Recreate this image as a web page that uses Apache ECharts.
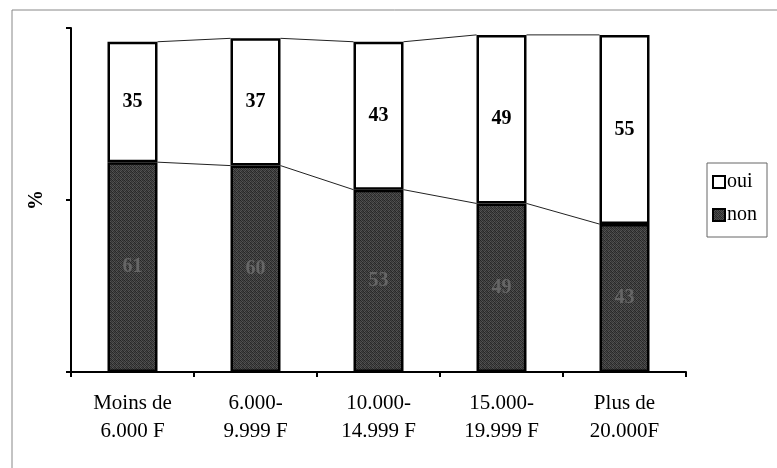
<!DOCTYPE html>
<html>
<head>
<meta charset="utf-8">
<script src="https://cdn.jsdelivr.net/npm/echarts@6/dist/echarts.min.js"></script>
<style>
html,body{margin:0;padding:0;background:#fff;}
#chart{width:777px;height:468px;}
</style>
</head>
<body>
<div id="chart"></div>
<script>
// Revenu mensuel du ménage (tranches)
const categories = ['Moins de\n6.000 F', '6.000-\n9.999 F', '10.000-\n14.999 F', '15.000-\n19.999 F', 'Plus de\n20.000F'];
// Réponses en %
const nonValues = [61, 60, 53, 49, 43];
const ouiValues = [35, 37, 43, 49, 55];
const yTicks = [0, 50, 100];

const BAR_W = 50;
const SERIF = '"Liberation Serif", "DejaVu Serif", serif';

// Grainy dark-grey fill for the "non" bars
function grainPattern() {
  const c = document.createElement('canvas');
  c.width = 4; c.height = 4;
  const ctx = c.getContext('2d');
  const shades = [
    '#262626', '#4e4e4e', '#2e2e2e', '#444',
    '#4a4a4a', '#2a2a2a', '#545454', '#323232',
    '#363636', '#525252', '#282828', '#484848',
    '#565656', '#303030', '#424242', '#272727'
  ];
  for (let i = 0; i < 16; i++) {
    ctx.fillStyle = shades[i];
    ctx.fillRect(i % 4, Math.floor(i / 4), 1, 1);
  }
  return c;
}
const darkFill = { image: grainPattern(), repeat: 'repeat' };

// Connector lines between stacked segments (boundary and top of each bar)
const cumulative = nonValues.map((v, i) => [v, v + ouiValues[i]]);
const connectorData = categories.slice(0, -1).map((_, i) => [i]);

const chart = echarts.init(document.getElementById('chart'), null, { renderer: 'canvas' });
chart.setOption({
  animation: false,
  backgroundColor: '#fff',
  grid: { left: 71, right: 91, top: 28, bottom: 96 },
  legend: {
    orient: 'vertical',
    left: 707, top: 163,
    data: ['oui', 'non'],
    itemWidth: 12, itemHeight: 12,
    itemGap: 13,
    icon: 'rect',
    textStyle: { fontFamily: SERIF, fontSize: 20, color: '#000', padding: [0, 0, 0, -3] },
    borderColor: '#666', borderWidth: 1, padding: [9, 10, 12, 5]
  },
  xAxis: {
    type: 'category',
    data: categories,
    axisLine: { lineStyle: { color: '#000', width: 2 } },
    axisTick: { show: true, length: 5, lineStyle: { color: '#000', width: 2 } },
    axisLabel: { fontFamily: SERIF, fontSize: 21, color: '#000', lineHeight: 28, margin: 17 }
  },
  yAxis: {
    type: 'value',
    min: yTicks[0], max: yTicks[yTicks.length - 1], interval: 50,
    name: '%',
    nameLocation: 'middle',
    nameGap: 24,
    nameTextStyle: { fontFamily: SERIF, fontSize: 20, fontWeight: 'bold', color: '#000' },
    axisLine: { show: true, lineStyle: { color: '#000', width: 2 } },
    axisTick: { show: true, length: 5, lineStyle: { color: '#000', width: 2 } },
    axisLabel: { show: false },
    splitLine: { show: false }
  },
  series: [
    {
      name: 'non', type: 'bar', stack: 'total', barWidth: BAR_W,
      data: nonValues,
      itemStyle: { color: darkFill, borderColor: '#000', borderWidth: 2.5 },
      label: { show: true, position: 'inside', fontFamily: SERIF, fontSize: 20, fontWeight: 'bold', color: '#666' }
    },
    {
      name: 'oui', type: 'bar', stack: 'total', barWidth: BAR_W,
      data: ouiValues,
      itemStyle: { color: '#fff', borderColor: '#000', borderWidth: 2.5 },
      label: { show: true, position: 'inside', fontFamily: SERIF, fontSize: 20, fontWeight: 'bold', color: '#000' }
    },
    {
      type: 'custom',
      data: connectorData,
      silent: true,
      z: 1,
      renderItem: function (params, api) {
        const i = api.value(0);
        const half = BAR_W / 2;
        const children = cumulative[i].map((v, k) => {
          const a = api.coord([i, v]);
          const b = api.coord([i + 1, cumulative[i + 1][k]]);
          return {
            type: 'line',
            shape: { x1: a[0] + half, y1: a[1], x2: b[0] - half, y2: b[1] },
            style: { stroke: '#222', lineWidth: 1 }
          };
        });
        return { type: 'group', children: children };
      }
    }
  ],
  graphic: [
    { type: 'line', shape: { x1: 12, y1: 10, x2: 777, y2: 10 }, style: { stroke: '#888', lineWidth: 1 } },
    { type: 'line', shape: { x1: 12, y1: 10, x2: 12, y2: 468 }, style: { stroke: '#888', lineWidth: 1 } }
  ]
});
</script>
</body>
</html>
